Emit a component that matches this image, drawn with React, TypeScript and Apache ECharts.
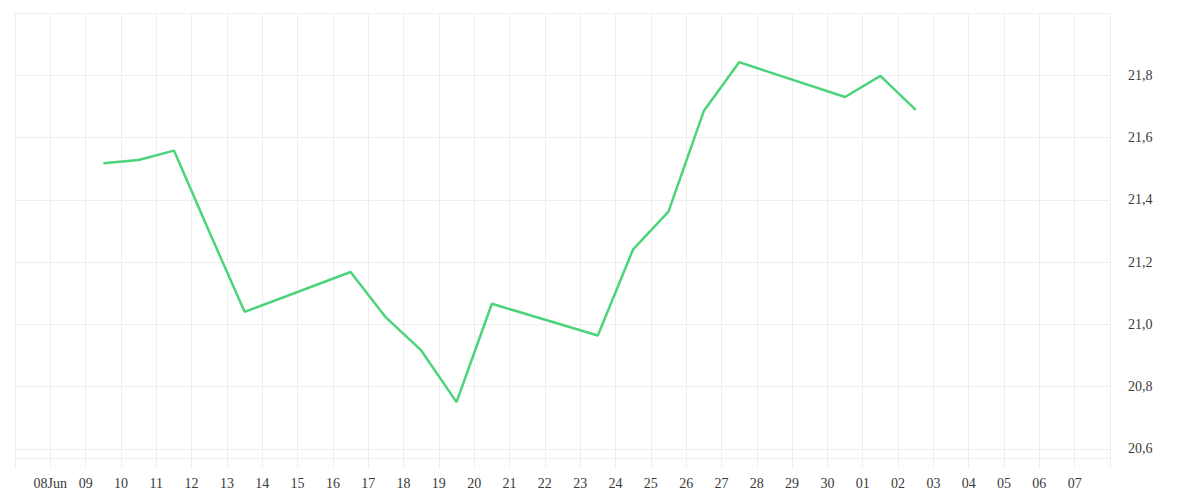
import React, { useEffect, useRef } from "react";
import * as echarts from "echarts";

const dayLabels = [
  "08Jun", "09", "10", "11", "12", "13", "14", "15", "16", "17",
  "18", "19", "20", "21", "22", "23", "24", "25", "26", "27",
  "28", "29", "30", "01", "02", "03", "04", "05", "06", "07",
];

const pointPositions = [
  1.5, 2.5, 3.5, 4.5, 5.5, 8.5, 9.5, 10.5, 11.5, 12.5,
  15.5, 16.5, 17.5, 18.5, 19.5, 22.5, 23.5, 24.5,
];

const priceValues = [
  21.517, 21.528, 21.558, 21.297, 21.04, 21.168, 21.022, 20.916, 20.75, 21.066,
  20.964, 21.241, 21.362, 21.685, 21.842, 21.73, 21.798, 21.689,
];

const extraLine = [20.572];

export default function App() {
  const ref = useRef<HTMLDivElement>(null);
  useEffect(() => {
    if (!ref.current) return;
    const chart = echarts.init(ref.current, null, { renderer: "svg" });
    const font = "Liberation Serif";
    chart.setOption({
      animation: false,
      backgroundColor: "#ffffff",
      grid: { left: 15, right: 90, top: 13, bottom: 32.5, containLabel: false },
      xAxis: {
        type: "value",
        min: -1,
        max: 30,
        interval: 1,
        axisLine: { show: false },
        axisTick: { show: false },
        splitLine: { show: true, lineStyle: { color: "#eeeeee", width: 1 } },
        axisLabel: {
          color: "#3a3a3a",
          fontFamily: font,
          fontSize: 14,
          margin: 9,
          showMinLabel: false,
          showMaxLabel: false,
          formatter: (v: number) => dayLabels[Math.round(v)] ?? "",
        },
      },
      yAxis: {
        type: "value",
        position: "right",
        min: 20.54,
        max: 22.0,
        splitNumber: 7,
        scale: true,
        axisLine: { show: false },
        axisTick: { show: false },
        splitLine: {
          show: true,
          showMinLine: false,
          lineStyle: { color: "#eeeeee", width: 1 },
        },
        axisLabel: {
          color: "#3a3a3a",
          fontFamily: font,
          fontSize: 14,
          margin: 18,
          padding: [4, 0, 0, 0],
          showMinLabel: false,
          showMaxLabel: false,
          formatter: (v: number) => v.toFixed(1).replace(".", ","),
        },
      },
      series: [
        {
          type: "line",
          data: pointPositions.map((x, i) => [x, priceValues[i]]),
          showSymbol: false,
          symbol: "none",
          lineStyle: { color: "#4cd47b", width: 2.5 },
          itemStyle: { color: "#4cd47b" },
          markLine: {
            silent: true,
            symbol: "none",
            label: { show: false },
            lineStyle: { color: "#eeeeee", width: 1, type: "solid" },
            data: extraLine.map((v) => ({ yAxis: v })),
          },
        },
      ],
    });
    return () => chart.dispose();
  }, []);
  return (
    <div
      ref={ref}
      style={{ position: "fixed", left: 0, top: 0, width: 1200, height: 500 }}
    />
  );
}
